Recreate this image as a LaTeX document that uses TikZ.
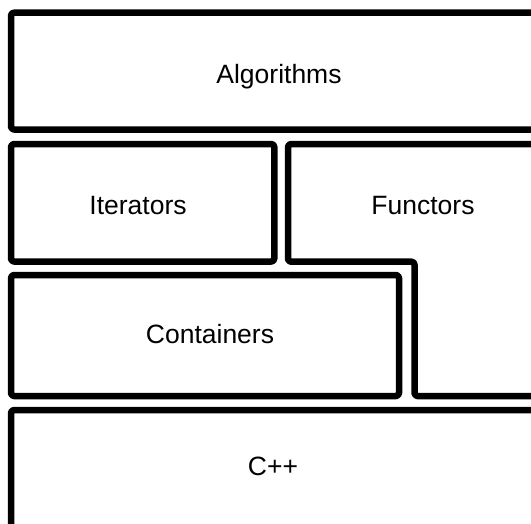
\documentclass[tikz,border=0pt]{standalone}
\usepackage{fontspec}
\setmainfont{Liberation Sans}
\begin{document}
\begin{tikzpicture}[x=1pt,y=-1pt,
  layer/.style={draw=black,line width=6.5pt,rounded corners=3pt,line join=round},
  caption/.style={font=\fontsize{26.5}{30}\selectfont,inner sep=0pt,anchor=base}]
  \useasboundingbox (0,0) rectangle (531,523);
  \clip (0,0) rectangle (531,523);
  \fill[white] (0,0) rectangle (531,523);

  % layers of the library, top to bottom; open sides run off the page
  \draw[layer] (570,12.7) -- (11,12.7) -- (11,129.5) -- (570,129.5);
  \draw[layer] (11,144) rectangle (274.3,261.5);
  \draw[layer] (570,144) -- (288,144) -- (288,261.7) -- (414.5,261.7)
               -- (414.5,396) -- (570,396);
  \draw[layer] (11,275) rectangle (399,396);
  \draw[layer] (570,410) -- (11,410) -- (11,560);

  % labels, placed on their baselines
  \node[caption] (alg)  at (279,83)    {Algorithms};
  \node[caption] (iter) at (138,214.5) {Iterators};
  \node[caption] (func) at (423,214.5) {Functors};
  \node[caption] (cont) at (210,343)   {Containers};
  \node[caption] (cpp)  at (273,475)   {C++};
\end{tikzpicture}
\end{document}
